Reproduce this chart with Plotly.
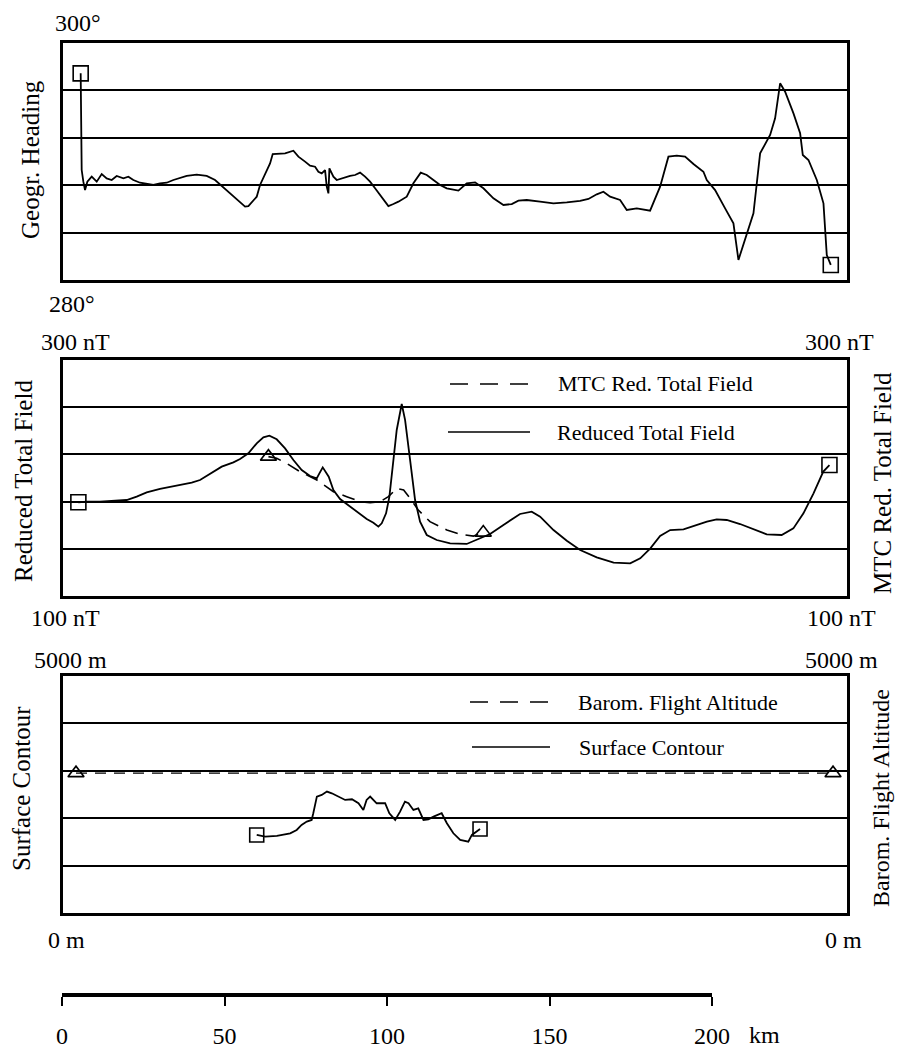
import plotly.graph_objects as go

W, H = 897, 1050
FONT = "Liberation Serif, Times New Roman, serif"

# ---------------- data (distance along profile in km) ----------------
head_km = [5.74, 6.05, 6.56, 7.08, 7.79, 9.13, 10.67, 12.21, 13.74, 15.28, 16.82, 18.87, 20.41, 21.95,
           24.0, 26.05, 28.1, 30.15, 32.2, 34.26, 36.31, 38.36, 41.44, 44.51, 47.08, 48.62, 50.67,
           52.72, 54.77, 56.31, 57.33, 58.87, 59.9, 60.92, 62.46, 64.0, 64.82, 66.56, 68.62, 71.18,
           72.72, 74.77, 76.31, 77.85, 78.87, 79.9, 80.92, 81.44, 81.95, 82.26, 83.49, 84.51, 86.56,
           88.62, 90.15, 91.69, 93.23, 94.77, 96.31, 97.85, 99.38, 100.41, 101.95, 103.49, 106.05,
           108.1, 110.36, 112.21, 114.26, 116.31, 118.36,
           121.95, 124.51, 127.08, 129.64, 132.72, 135.8, 138.36, 140.41, 142.97, 147.08, 151.18,
           155.28, 159.38, 161.95, 164.51, 166.56, 168.62, 171.69, 173.74, 176.82, 180.92, 184.0,
           186.56, 189.13, 191.69, 194.26, 197.33, 198.36, 200.92, 204.0, 206.56, 208.1, 210.15,
           212.72, 214.77, 217.85, 219.38, 220.92, 222.46, 225.03, 227.08, 227.9, 229.64, 232.21,
           234.26, 235.28, 236.51]
head_deg = [297.44, 289.28, 288.30, 287.59, 288.30, 288.72, 288.30, 288.94, 288.58, 288.44, 288.78,
            288.58, 288.72, 288.44, 288.21, 288.10, 288.02, 288.16, 288.21, 288.44, 288.64, 288.78,
            288.89, 288.78, 288.44, 288.07, 287.59, 287.09, 286.61, 286.19, 286.24, 286.75, 287.03,
            288.02, 289.0, 289.84, 290.63, 290.63, 290.69, 290.91, 290.41, 289.99, 289.65, 289.56,
            289.14, 289.0, 289.28, 287.88, 287.31, 289.42, 288.72, 288.44, 288.64, 288.78, 288.86,
            289.06, 288.72, 288.30, 287.74, 287.17, 286.61, 286.24, 286.41, 286.61, 287.03, 288.16,
            289.06, 288.86, 288.44, 288.02, 287.74,
            287.54, 288.16, 288.24, 287.74, 286.89, 286.33, 286.41, 286.69, 286.75, 286.61, 286.47,
            286.55, 286.67, 286.84, 287.23, 287.45, 287.03, 286.75, 285.91, 286.05, 285.85, 287.88,
            290.41, 290.49, 290.41, 289.79, 289.14, 288.44, 287.59, 286.05, 284.78, 281.69, 283.38,
            285.63, 290.69, 292.24, 293.64, 296.60, 295.89, 294.06, 292.38, 290.55, 290.13, 288.44,
            286.47, 282.11, 281.27]

field_km = [5.03, 7.59, 11.7, 15.8, 19.9, 22.97, 26.05, 30.15, 35.28, 39.9, 42.46, 45.54, 49.13,
            52.72, 54.77, 57.33, 59.9, 61.95, 63.79, 66.05, 68.62, 71.18, 73.74, 76.31, 78.36,
            79.18, 80.21, 82.05, 83.49, 85.54, 87.59, 90.67, 93.74, 95.79, 97.33, 98.36, 99.69,
            100.72, 101.74, 102.97, 104.51, 105.54, 107.08, 108.62, 110.15, 112.21, 115.28,
            119.4, 124.5, 127.6, 131.7, 135.8, 140.9, 144.5, 147.1, 151.2, 155.3, 159.4, 164.5,
            169.7, 174.8, 177.9, 181.0, 184.0, 187.1, 191.2, 195.3, 198.4, 201.4, 204.5, 208.6,
            212.7, 216.8, 221.4, 225.0, 228.1, 231.2, 234.2, 236.1]
field_nT = [179.4, 179.9, 179.9, 180.5, 181.35, 184.2, 187.85, 190.7, 193.2, 196.0, 198.3, 203.4,
            209.6, 213.3, 216.1, 220.9, 229.4, 234.5, 235.9, 232.8, 225.1, 215.3, 206.8, 201.7,
            199.7, 203.9, 209.0, 201.1, 189.8, 182.2, 178.0, 171.5, 165.2, 162.1, 158.75, 161.6,
            170.05, 184.2, 209.6, 240.7, 262.7, 249.2, 215.3, 181.35, 163.0, 151.7, 147.45,
            144.6, 144.1, 147.45, 152.5, 160.2, 169.5, 171.5, 167.2, 155.9, 146.9, 139.0, 132.8,
            128.2, 127.7, 131.9, 140.4, 150.8, 155.9, 156.5, 160.2, 163.0, 165.0, 164.4, 161.0,
            156.5, 152.3, 151.7, 157.3, 170.05, 187.0, 205.4, 211.0]

mtc_km = [63.5, 66.05, 69.1, 73.2, 78.4, 83.5, 87.6, 91.7, 94.8, 97.8, 100.4, 103.0, 105.1, 107.1,
          109.6, 113.2, 117.3, 118.4, 122.5, 126.6, 129.6]
mtc_nT = [218.1, 216.7, 212.4, 205.4, 198.3, 188.4, 184.2, 179.9, 179.1, 179.9, 184.2, 191.2, 189.8,
          182.8, 172.9, 163.0, 157.3, 155.9, 152.3, 150.8, 153.7]

surf_km = [59.9, 62.5, 66.1, 70.2, 72.2, 73.7, 75.3, 76.8, 77.3, 78.4, 79.9, 81.5, 83.0, 85.0, 87.1,
           89.2, 91.2, 92.7, 93.7, 94.8, 96.8, 99.4, 100.7, 102.5, 104.0, 105.5, 106.6, 108.1,
           109.6, 111.2, 112.7, 114.3, 116.8, 118.4, 120.4, 122.5, 125.0, 126.1, 127.6, 128.6]
surf_m = [1647, 1612, 1626, 1682, 1752, 1858, 1928, 1963, 2104, 2455, 2490, 2561, 2525, 2455, 2385,
          2399, 2315, 2174, 2385, 2455, 2315, 2315, 2104, 1963, 2139, 2350, 2315, 2174, 2209, 1963,
          1977, 2033, 2104, 1893, 1682, 1541, 1506, 1647, 1717, 1773]

alt_km = [4.3, 237.2]
alt_m = [2950, 2950]

scale_km = [0, 50, 100, 150, 200]
scale_labels = ["0", "50", "100", "150", "200"]

# ---------------- helpers ----------------
def ydom(top, bot):
    return [1 - bot / H, 1 - top / H]

XDOM = [63 / W, 847 / W]
XRANGE = [0.3, 241.5]
BLACK = "black"

fig = go.Figure()

line_solid = dict(color=BLACK, width=1.8)
line_dash = dict(color=BLACK, width=1.6, dash="13px,8px")
sq = dict(symbol="square-open", size=15, color=BLACK, line=dict(width=1.6, color=BLACK))
tri = dict(symbol="triangle-up-open", size=14, color=BLACK, line=dict(width=1.6, color=BLACK))

# panel 1
fig.add_trace(go.Scatter(x=head_km, y=head_deg, mode="lines", line=line_solid, xaxis="x", yaxis="y"))
fig.add_trace(go.Scatter(x=[head_km[0], head_km[-1]], y=[head_deg[0], head_deg[-1]], mode="markers",
                         marker=sq, xaxis="x", yaxis="y"))
# panel 2
fig.add_trace(go.Scatter(x=mtc_km, y=mtc_nT, mode="lines", line=line_dash, xaxis="x2", yaxis="y2"))
fig.add_trace(go.Scatter(x=field_km, y=field_nT, mode="lines", line=line_solid, xaxis="x2", yaxis="y2"))
fig.add_trace(go.Scatter(x=[field_km[0], field_km[-1]], y=[field_nT[0], field_nT[-1]], mode="markers",
                         marker=sq, xaxis="x2", yaxis="y2"))
fig.add_trace(go.Scatter(x=[mtc_km[0], mtc_km[-1]], y=[mtc_nT[0], mtc_nT[-1]], mode="markers",
                         marker=tri, xaxis="x2", yaxis="y2"))
# panel 3
fig.add_trace(go.Scatter(x=alt_km, y=alt_m, mode="lines", line=dict(color=BLACK, width=1.4, dash="11px,8px"),
                         xaxis="x3", yaxis="y3"))
fig.add_trace(go.Scatter(x=alt_km, y=alt_m, mode="markers", marker=tri, xaxis="x3", yaxis="y3"))
fig.add_trace(go.Scatter(x=surf_km, y=surf_m, mode="lines", line=line_solid, xaxis="x3", yaxis="y3"))
fig.add_trace(go.Scatter(x=[surf_km[0], surf_km[-1]], y=[surf_m[0], surf_m[-1]], mode="markers",
                         marker=dict(symbol="square-open", size=14, color=BLACK, line=dict(width=1.6, color=BLACK)),
                         xaxis="x3", yaxis="y3"))
# scale bar subplot (invisible carrier trace)
fig.add_trace(go.Scatter(x=scale_km, y=[0] * len(scale_km), mode="markers", marker=dict(opacity=0),
                         xaxis="x4", yaxis="y4", hoverinfo="skip"))

xax = dict(domain=XDOM, range=XRANGE, showline=True, mirror=True, linewidth=2.5, linecolor=BLACK,
           showgrid=False, zeroline=False, showticklabels=False, ticks="", automargin=False)
def yax(rng, dt, anchor, dom):
    return dict(domain=dom, range=rng, tick0=rng[0], dtick=dt, showgrid=True, gridcolor=BLACK,
                gridwidth=1.6, showline=True, mirror=True, linewidth=2.5, linecolor=BLACK,
                zeroline=False, showticklabels=False, ticks="", anchor=anchor, automargin=False)

fig.update_layout(
    template="none",
    width=W, height=H, margin=dict(l=0, r=0, t=0, b=0, pad=0, autoexpand=False), autosize=False,
    paper_bgcolor="white", plot_bgcolor="white", showlegend=False,
    font=dict(family=FONT, size=24, color=BLACK),
    xaxis=dict(xax, anchor="y"),
    yaxis=yax([280, 300], 4, "x", ydom(43, 280)),
    xaxis2=dict(xax, anchor="y2"),
    yaxis2=yax([100, 300], 40, "x2", ydom(360, 596)),
    xaxis3=dict(xax, anchor="y3"),
    yaxis3=yax([0, 5000], 1000, "x3", ydom(676, 913)),
    xaxis4=dict(domain=[62 / W, 712 / W], range=[0, 200], anchor="y4", showline=True, linewidth=4,
                linecolor=BLACK, ticks="outside", ticklen=9, tickwidth=2, tickcolor=BLACK,
                tickvals=scale_km, ticktext=scale_labels, tickfont=dict(family=FONT, size=24),
                ticklabelstandoff=9, showgrid=False, zeroline=False, automargin=False),
    yaxis4=dict(domain=ydom(985, 993), range=[0, 1], visible=False, anchor="x4", automargin=False),
)

annots = []
def ann(text, x, y, xanchor="center", size=24, angle=0):
    annots.append(dict(text=text, x=x / W, y=1 - y / H, xref="paper", yref="paper",
                       xanchor=xanchor, yanchor="middle", showarrow=False, textangle=angle,
                       font=dict(family=FONT, size=size, color=BLACK)))

# panel 1 labels
ann("300°", 53, 23, "left")
ann("280°", 47, 304, "left")
ann("Geogr. Heading", 30, 160, size=25, angle=-90)
# panel 2 labels
ann("300 nT", 39, 342, "left")
ann("100 nT", 29, 618, "left")
ann("300 nT", 876, 342, "right")
ann("100 nT", 878, 618, "right")
ann("Reduced Total Field", 23, 481, size=25, angle=-90)
ann("MTC Red. Total Field", 883, 483, size=25, angle=-90)
ann("MTC Red. Total Field", 556, 384, "left", size=22)
ann("Reduced Total Field", 555, 432, "left", size=22)
# panel 3 labels
ann("5000 m", 32, 660, "left")
ann("5000 m", 880, 660, "right")
ann("0 m", 46, 940, "left")
ann("0 m", 864, 940, "right")
ann("Surface Contour", 21, 789, size=25, angle=-90)
ann("Barom. Flight Altitude", 881, 798, size=24, angle=-90)
ann("Barom. Flight Altitude", 576, 702, "left", size=22)
ann("Surface Contour", 577, 747, "left", size=22)
# scale unit
ann("km", 764, 1035, "center")

shapes = []
def seg(x0, x1, y, dash=None):
    shapes.append(dict(type="line", xref="paper", yref="paper", x0=x0 / W, x1=x1 / W,
                       y0=1 - y / H, y1=1 - y / H,
                       line=dict(color=BLACK, width=1.6, dash=dash) if dash else dict(color=BLACK, width=1.6)))

seg(450, 537, 384, "18px,12px")
seg(448, 530, 432)
seg(470, 550, 702, "18px,12px")
seg(472, 550, 747)

fig.update_layout(annotations=annots, shapes=shapes)
fig.write_html("out.html", config={"responsive": False, "displayModeBar": False},
               post_script="document.body.style.margin='0';document.body.style.overflow='hidden';")
